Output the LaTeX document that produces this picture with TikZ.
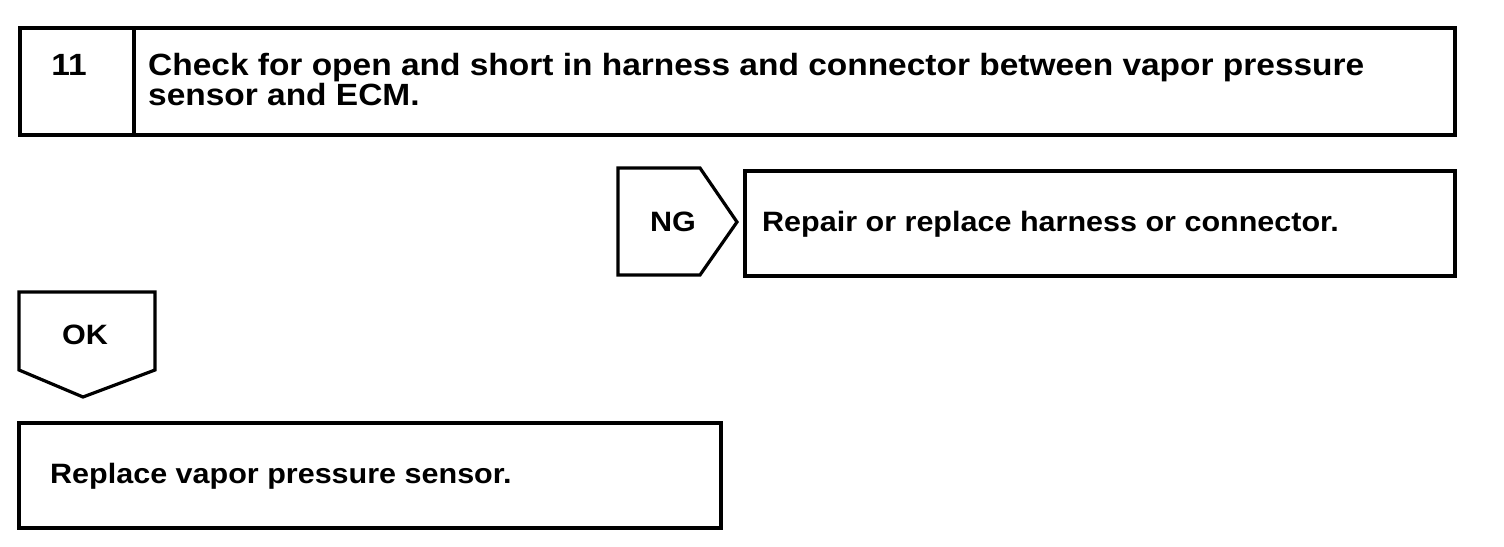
\documentclass[tikz,border=0pt]{standalone}
\usepackage{fontspec}
\setmainfont{Liberation Sans}
\newfontfamily\hfont[FakeStretch=1.09]{Liberation Sans}
\begin{document}
\begin{tikzpicture}[x=1pt,y=-1pt,
  frame/.style={draw=black,line width=3.2pt,line join=miter},
  big/.style={font=\hfont\bfseries\fontsize{30.7}{28.5}\selectfont,inner sep=0pt},
  lbl/.style={font=\hfont\bfseries\fontsize{28}{28}\selectfont,inner sep=0pt},
  tleft/.style={anchor=base west,align=left}]
\useasboundingbox (0,0) rectangle (1504,546);
% step box
\draw[frame] (20,28) rectangle (1455,135);
\draw[frame] (134,28) -- (134,135);
\node[big,anchor=base] (num) at (69,75) {11};
\node[big,tleft] (check) at (148,105) {Check for open and short in harness and connector between vapor pressure\\sensor and ECM.};
% NG
\draw[frame] (618,168) -- (700,168) -- (737,222) -- (700,275) -- (618,275) -- cycle;
\node[lbl,anchor=base] (ng) at (673,231) {NG};
\draw[frame] (745,171) rectangle (1455,276);
\node[lbl,tleft] (repair) at (762,231) {Repair or replace harness or connector.};
% OK
\draw[frame] (19,292) -- (155,292) -- (155,370) -- (83,397) -- (19,370) -- cycle;
\node[lbl,anchor=base] (ok) at (85,344) {OK};
\draw[frame] (19,423) rectangle (721,528);
\node[lbl,tleft] (replace) at (50,483) {Replace vapor pressure sensor.};
\end{tikzpicture}
\end{document}
